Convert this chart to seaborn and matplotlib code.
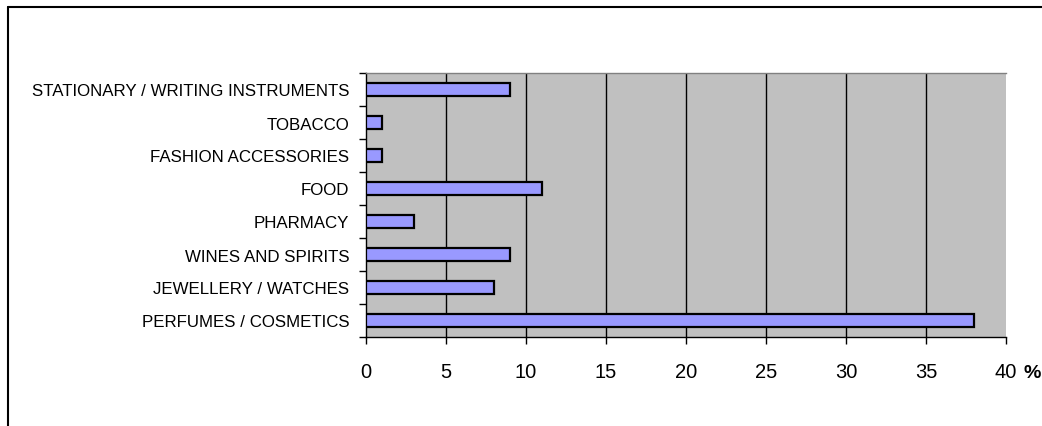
import matplotlib
matplotlib.use("Agg")
import matplotlib.pyplot as plt
import seaborn as sns
import pandas as pd
from matplotlib.lines import Line2D

categories = ["STATIONARY / WRITING INSTRUMENTS", "TOBACCO", "FASHION ACCESSORIES", "FOOD",
              "PHARMACY", "WINES AND SPIRITS", "JEWELLERY / WATCHES", "PERFUMES / COSMETICS"]
values = [9, 1, 1, 11, 3, 9, 8, 38]
xticks = [0, 5, 10, 15, 20, 25, 30, 35, 40]

df = pd.DataFrame({"category": categories, "value": values})

sns.set_theme(style="white")
plt.rcParams['font.family'] = ['Liberation Sans', 'DejaVu Sans']
plt.rcParams['text.color'] = 'black'
plt.rcParams['xtick.color'] = 'black'
plt.rcParams['ytick.color'] = 'black'
plt.rcParams['xtick.labelcolor'] = 'black'
plt.rcParams['ytick.labelcolor'] = 'black'

fig = plt.figure(figsize=(10.42, 4.27), dpi=100)
ax = fig.add_axes([366/1042, 1 - 338/427, 640/1042, 264/427])
ax.set_facecolor("#C0C0C0")

sns.barplot(data=df, x="value", y="category", order=categories, orient="h",
            color="#9999FF", edgecolor="black", linewidth=1.6, width=0.38,
            saturation=1, ax=ax, zorder=3)

ax.set_xlim(0, 40)
ax.set_ylim(len(categories) - 0.5, -0.5)
ax.set_xticks(xticks)
ax.set_xticklabels([str(t) for t in xticks], fontsize=14.5, color="black")
ax.set_yticks([i - 0.5 for i in range(len(categories) + 1)], minor=False)
ax.set_yticklabels([])
ax.set_yticks(range(len(categories)), minor=True)
ax.set_yticklabels(categories, minor=True, fontsize=12.2, color="black")
ax.tick_params(axis="y", which="minor", length=0, pad=12)
ax.tick_params(axis="y", which="major", length=5, width=1, color="black", direction="out", left=True)
ax.tick_params(axis="x", length=5, width=1, color="black", direction="out", bottom=True, pad=13)
ax.set_xlabel("")
ax.set_ylabel("")
for x in xticks[1:-1]:
    ax.axvline(x, color="black", linewidth=1, zorder=1)

for s in ["left", "bottom"]:
    ax.spines[s].set_color("black")
    ax.spines[s].set_linewidth(1)
ax.spines["right"].set_visible(False)
ax.spines["top"].set_color("#808080")
ax.spines["top"].set_linewidth(1)

fig.text(1024/1042, 1 - 374/427, "%", fontsize=14, fontweight="bold", ha="left", va="center", color="black")

fig.add_artist(Line2D([7.5/1042, 7.5/1042], [0, 1 - 7.5/427], transform=fig.transFigure, color="black", linewidth=1.5))
fig.add_artist(Line2D([7.5/1042, 1], [1 - 7.5/427, 1 - 7.5/427], transform=fig.transFigure, color="black", linewidth=1.5))

fig.savefig("out.png", dpi=100)
